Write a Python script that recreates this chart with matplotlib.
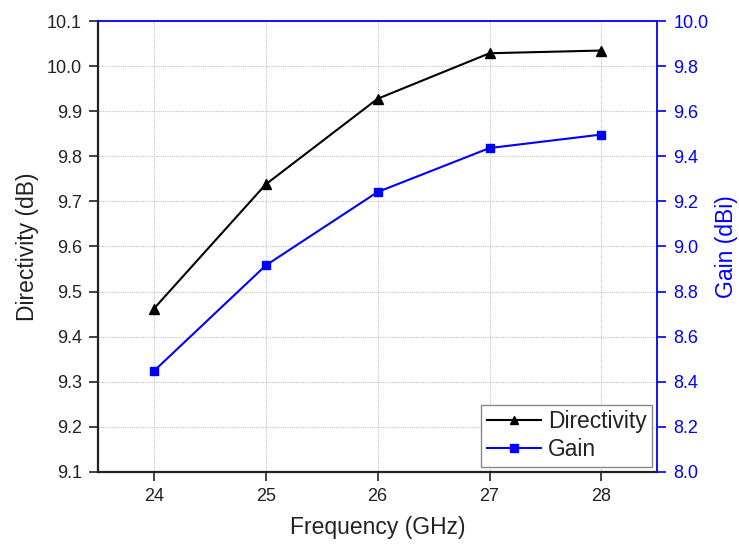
import matplotlib
matplotlib.use("Agg")
import matplotlib.pyplot as plt

plt.rcParams['font.family'] = ['Liberation Sans', 'DejaVu Sans']

freq = [24, 25, 26, 27, 28]
directivity = [9.462, 9.738, 9.928, 10.029, 10.035]
gain = [8.447, 8.916, 9.242, 9.437, 9.497]

fig = plt.figure(figsize=(7.39, 5.45), dpi=100)
ax = fig.add_axes([0.1326, 0.1345, 0.7569, 0.8265])
ax2 = ax.twinx()

l1, = ax.plot(freq, directivity, color='black', marker='^', markersize=7.5, linewidth=1.5, label='Directivity')
l2, = ax2.plot(freq, gain, color='blue', marker='s', markersize=6, linewidth=1.5, label='Gain')

ax.set_xlim(23.5, 28.5)
ax.set_ylim(9.1, 10.1)
ax2.set_ylim(8.0, 10.0)
ax.set_xticks(freq)
ax.set_yticks([9.1 + 0.1 * i for i in range(11)])
ax2.set_yticks([8.0 + 0.2 * i for i in range(11)])
ax.yaxis.set_major_formatter(matplotlib.ticker.FormatStrFormatter('%.1f'))
ax2.yaxis.set_major_formatter(matplotlib.ticker.FormatStrFormatter('%.1f'))

ax.grid(True, color='#c4c4c4', linestyle=(0, (1, 1)), linewidth=0.8)
ax.set_axisbelow(True)

for sp in ['left', 'bottom']:
    ax.spines[sp].set_linewidth(1.6)
    ax.spines[sp].set_color('#222222')
ax2.spines['left'].set_visible(False)
ax2.spines['bottom'].set_visible(False)
ax2.spines['right'].set_color('blue')
ax2.spines['right'].set_linewidth(1.3)
ax2.spines['top'].set_color('blue')
ax2.spines['top'].set_linewidth(1.3)
ax.spines['top'].set_visible(False)
ax.spines['right'].set_visible(False)

ax.tick_params(axis='both', direction='out', length=6.5, width=1.2, labelsize=13, color='#222222', labelcolor='#222222', pad=5)
ax2.tick_params(axis='y', direction='out', length=6.5, width=1.2, labelsize=13, color='blue', labelcolor='blue', pad=5)

ax.set_xlabel('Frequency (GHz)', fontsize=16.5, color='#222222', labelpad=8)
ax.set_ylabel('Directivity (dB)', fontsize=16.5, color='#222222', labelpad=6)
ax2.set_ylabel('Gain (dBi)', fontsize=16.5, color='blue', labelpad=5)

leg = ax2.legend(handles=[l1, l2], loc='lower right', fontsize=16.4, frameon=True, fancybox=False,
                 edgecolor='#888888', handlelength=2.4, borderpad=0.25, labelspacing=0.2,
                 handletextpad=0.3, borderaxespad=0.22, framealpha=1, markerscale=0.85)
leg.get_frame().set_linewidth(1.0)
for t in leg.get_texts():
    t.set_color('#222222')

fig.savefig('out.png', dpi=100)
